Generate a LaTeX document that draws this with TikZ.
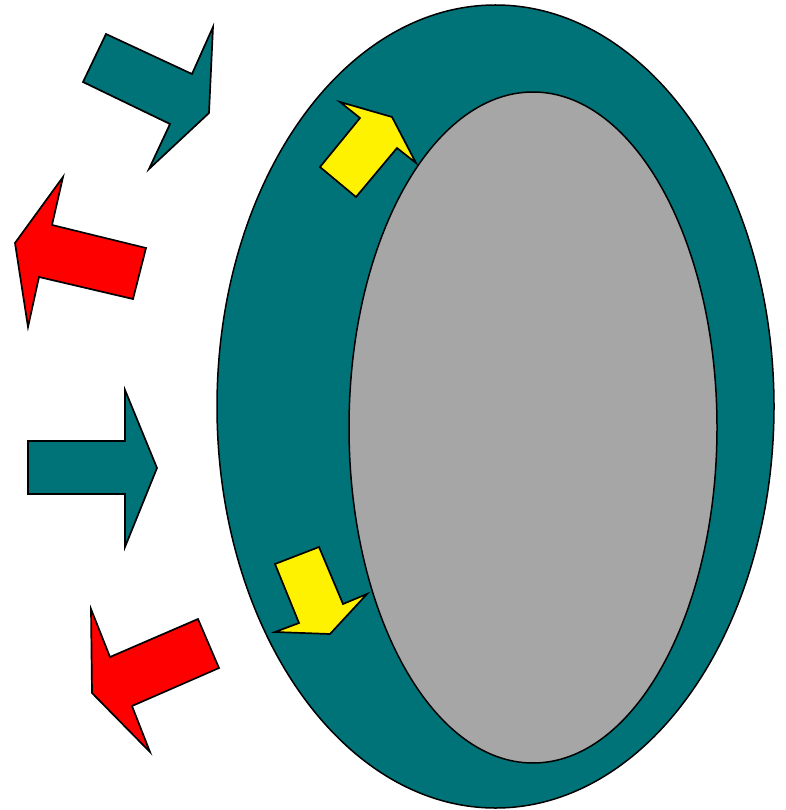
\documentclass[tikz,border=0pt]{standalone}
\usepackage{tikz}
\definecolor{tealC}{RGB}{0,115,120}
\definecolor{grayC}{RGB}{166,166,166}
\tikzset{
  blockT/.style={draw=black, fill=tealC, line width=1.7pt, line join=miter},
  blockR/.style={draw=black, fill=red, line width=1.7pt, line join=miter},
  blockY/.style={draw=black, fill=yellow, line width=1.7pt, line join=miter},
  cellW/.style={draw=black, fill=tealC, line width=1.5pt},
  cellI/.style={draw=black, fill=grayC, line width=1.5pt},
}
\begin{document}
\begin{tikzpicture}[x=1pt, y=-1pt]
    \useasboundingbox (0,0) rectangle (785,810);
    %% cell body
    \draw[cellW] (495.5,406.5) ellipse [x radius=278.5, y radius=401.5];
    \draw[cellI] (533,427.5) ellipse [x radius=184, y radius=335.5];
    %% arrows going in
    \draw[blockT] (106,34) -- (192,74) -- (213,27) -- (209,113)
                  -- (149,169) -- (170,124) -- (83,82) -- cycle;
    \draw[blockT] (28,441) -- (125,441) -- (125,390) -- (157,468)
                  -- (125,547) -- (125,494) -- (28,494) -- cycle;
    %% arrows going out
    \draw[blockR] (63,177) -- (52,225) -- (146,248) -- (133,299)
                  -- (39,277) -- (28,327) -- (15,243) -- cycle;
    \draw[blockR] (91,609) -- (110,657) -- (198,619) -- (219,668)
                  -- (132,706) -- (150,752) -- (92,693) -- cycle;
    %% inside the wall
    \draw[blockY] (340,102) -- (360,118) -- (320,167) -- (356,197)
                  -- (397,148) -- (416,163) -- (392,117) -- cycle;
    \draw[blockY] (275,564) -- (319,547) -- (343,604) -- (367,594)
                  -- (330,634) -- (275,632) -- (299,623) -- cycle;
  \end{tikzpicture}
\end{document}
